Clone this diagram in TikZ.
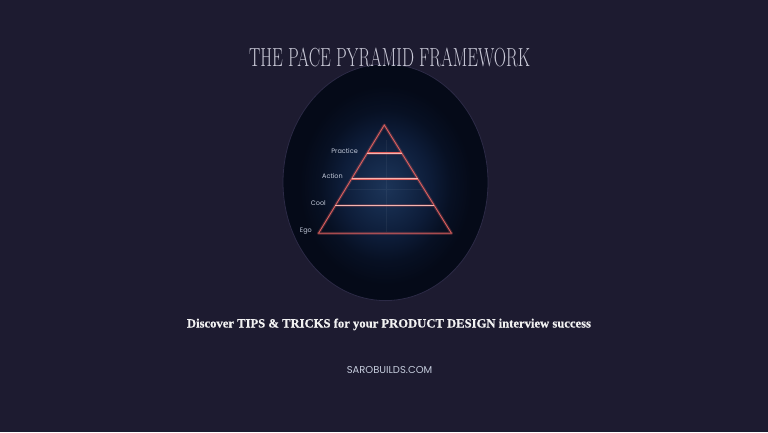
\documentclass[tikz,border=0pt]{standalone}
\usepackage{fontspec}
\usetikzlibrary{shapes.geometric,calc}
\newfontfamily\subfont[FakeBold=0.5]{Liberation Serif Bold}
\newfontfamily\popfont{Poppins}
\definecolor{bg}{HTML}{1D1B30}
\definecolor{ellA}{HTML}{1C3458}
\definecolor{ellB}{HTML}{152A4B}
\definecolor{ellC}{HTML}{0D1C38}
\definecolor{ellD}{HTML}{071023}
\definecolor{ellE}{HTML}{050A18}
\definecolor{rim}{HTML}{2C2A46}
\definecolor{pyr}{HTML}{E0605E}
\definecolor{pyrhi}{HTML}{F5B5B0}
\definecolor{lbl}{HTML}{C5CCDC}
\definecolor{ttl}{HTML}{CACAD8}
\definecolor{subc}{HTML}{F2F2F2}
\pgfdeclareradialshading{ellglow}{\pgfpoint{0bp}{-1bp}}{color(0bp)=(ellA); color(5bp)=(ellB); color(11bp)=(ellC); color(16bp)=(ellD); color(21bp)=(ellE); color(50bp)=(ellE)}
\tikzset{
  glow/.style={pyr, opacity=0.25, line width=3pt, line cap=round, line join=round},
  edge/.style={pyr, line width=0.85pt, line join=miter},
  tier/.style={pyr, line width=1.6pt},
  tierhi/.style={pyrhi, line width=0.55pt},
  lvl/.style={anchor=base east, text=lbl, font=\popfont\fontsize{6.5}{7}\selectfont, inner sep=0pt},
}
\begin{document}
\begin{tikzpicture}[x=1pt,y=-1pt]
\fill[bg] (0,0) rectangle (768,432);
\useasboundingbox (0,0) rectangle (768,432);
% oval backdrop
\node (oval) [ellipse, minimum width=205pt, minimum height=236.6pt, inner sep=0pt,
  shade, shading=ellglow, draw=rim, line width=0.8pt] at (385.5,182.3) {};
% faint grid cross
\coordinate (gv1) at (386,140); \coordinate (gv2) at (386,232);
\coordinate (gh1) at (348,189); \coordinate (gh2) at (422,189);
\draw[white, opacity=0.05, line width=0.6pt] (gv1) -- (gv2) (gh1) -- (gh2);
% pyramid
\coordinate (apex) at (384.3,125);
\coordinate (bl) at (318.5,233.3);
\coordinate (br) at (451.5,233.3);
\coordinate (p1) at ($(apex)!0.261!(bl)$); \coordinate (q1) at ($(apex)!0.261!(br)$);
\coordinate (p2) at ($(apex)!0.496!(bl)$); \coordinate (q2) at ($(apex)!0.496!(br)$);
\coordinate (p3) at ($(apex)!0.745!(bl)$); \coordinate (q3) at ($(apex)!0.745!(br)$);
\draw[glow] (apex) -- (bl) -- (br) -- cycle (p1) -- (q1) (p2) -- (q2) (p3) -- (q3);
\draw[edge] (apex) -- (bl) -- (br) -- cycle;
\draw[tier] (p1) -- (q1) (p2) -- (q2) (p3) -- (q3);
\draw[tierhi] (p1) -- (q1) (p2) -- (q2) (p3) -- (q3);
% labels
\node (practice) [lvl] at (358,153) {Practice};
\node (action) [lvl] at (343,178.5) {Action};
\node (cool) [lvl] at (326,205.5) {Cool};
\node (ego) [lvl] at (312,232.5) {Ego};
% texts
\node (title) [anchor=base, text=ttl, inner sep=0pt] at (389.5,66)
  {\resizebox{281pt}{18.5pt}{\rmfamily\fontsize{27}{27}\selectfont THE PACE PYRAMID FRAMEWORK}};
\node (sub) [anchor=base, text=subc, inner sep=0pt] at (389,327.5)
  {\resizebox{404pt}{!}{\subfont\fontsize{12.6}{14}\selectfont Discover TIPS \& TRICKS for your PRODUCT DESIGN interview success}};
\node (site) [anchor=base, text=lbl, inner sep=0pt] at (389.5,373.3)
  {\popfont\fontsize{10}{12}\selectfont SAROBUILDS.COM};
\end{tikzpicture}
\end{document}
